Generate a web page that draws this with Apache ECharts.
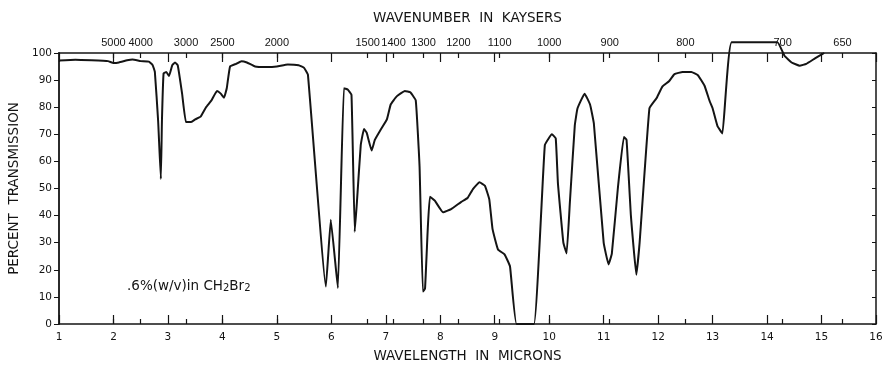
<!DOCTYPE html>
<html>
<head>
<meta charset="utf-8">
<script src="https://cdn.jsdelivr.net/npm/echarts@6/dist/echarts.min.js"></script>
<style>
  html, body { margin: 0; padding: 0; background: #fff; }
  #chart { width: 884px; height: 366px; }
</style>
</head>
<body>
<div id="chart"></div>
<script>
// wavelength (microns) and percent transmission
const wavelength = [
  1.0, 1.3, 1.6, 1.9, 2.0, 2.1, 2.25, 2.35, 2.5, 2.65, 2.72, 2.76, 2.82, 2.87, 2.89, 2.92,
  2.97, 3.02, 3.08, 3.13, 3.18, 3.26, 3.33, 3.42, 3.5, 3.6, 3.7, 3.8, 3.9, 3.97, 4.03, 4.08,
  4.14, 4.25, 4.35, 4.45, 4.6, 4.8, 5.0, 5.2, 5.4, 5.5, 5.57, 5.9, 5.99, 6.12, 6.23, 6.3,
  6.37, 6.43, 6.47, 6.54, 6.6, 6.65, 6.74, 6.8, 6.9, 7.02, 7.09, 7.2, 7.35, 7.45, 7.55, 7.62,
  7.68, 7.72, 7.77, 7.81, 7.9, 8.05, 8.2, 8.38, 8.5, 8.6, 8.72, 8.82, 8.9, 8.96, 9.06, 9.18,
  9.28, 9.4, 9.72, 9.92, 10.05, 10.12, 10.16, 10.26, 10.32, 10.38, 10.47, 10.52, 10.65, 10.75,
  10.82, 11.0, 11.09, 11.15, 11.26, 11.37, 11.42, 11.5, 11.6, 11.66, 11.84, 11.97, 12.08, 12.2,
  12.3, 12.45, 12.61, 12.73, 12.85, 12.95, 13.0, 13.09, 13.18, 13.35, 14.19, 14.32, 14.45, 14.6,
  14.72, 14.88, 15.05
];
const transmission = [
  97.2, 97.5, 97.3, 97, 96.3, 96.5, 97.3, 97.6, 97, 96.8, 95.5, 93, 75, 53.5, 75, 92.5,
  93, 91.5, 95.5, 96.5, 95.5, 85, 74.5, 74.5, 75.5, 76.5, 80, 82.5, 86, 85, 83.5, 87,
  95, 96, 97, 96.5, 95, 94.8, 95, 95.8, 95.5, 94.5, 92, 13.8, 38.5, 13.3, 87, 86.5,
  84.5, 34, 45, 66, 72, 70.5, 64, 68, 71.5, 75.5, 81, 84, 86, 85.5, 82.5, 58,
  12, 13, 35, 47, 45.5, 41.2, 42.4, 45, 46.5, 49.8, 52.3, 51, 46, 35, 27.5, 25.7,
  21.3, 0, 0, 66, 70, 68.5, 52, 30, 26, 45, 73.3, 79.6, 85, 81,
  74, 30, 22, 26, 50, 69, 68, 40, 18.2, 30, 79.6, 83.3, 87.7, 89.6,
  92.2, 93, 93, 91.8, 88, 82, 79.6, 73, 70.3, 104, 104, 99, 96.5, 95.3,
  96, 98, 100
];
// top scale: wavenumber in kaysers (cm-1)
const wavenumberTicks = [5000, 4000, 3000, 2500, 2000, 1500, 1400, 1300, 1200, 1100, 1000, 900, 800, 700, 650];
const micronTicks = [1, 2, 3, 4, 5, 6, 7, 8, 9, 10, 11, 12, 13, 14, 15, 16];
const percentTicks = [0, 10, 20, 30, 40, 50, 60, 70, 80, 90, 100];

const ink = '#141414';
const font = 'DejaVu Sans';
const narrow = 'Liberation Sans';
const wnPos = wavenumberTicks.map(w => 10000 / w);

const chart = echarts.init(document.getElementById('chart'));

const option = {
  animation: false,
  backgroundColor: '#fff',
  grid: { left: 59, right: 8, top: 53, bottom: 42, outerBoundsMode: 'none', containLabel: false },
  xAxis: [
    {
      type: 'value', position: 'bottom', min: 1, max: 16, interval: 1,
      name: 'WAVELENGTH  IN  MICRONS', nameLocation: 'middle', nameGap: 25,
      nameTextStyle: { color: ink, fontFamily: font, fontSize: 13.5 },
      axisLine: { lineStyle: { color: ink, width: 1.5 } },
      axisTick: { inside: true, length: 9, lineStyle: { color: ink, width: 1.2 } },
      axisLabel: { color: ink, fontFamily: font, fontSize: 10.5, margin: 8 },
      splitLine: { show: false }
    },
    {
      type: 'value', position: 'bottom', min: 1, max: 16,
      axisLine: { show: false },
      axisTick: { inside: true, length: 5, customValues: wnPos, lineStyle: { color: ink, width: 1.2 } },
      axisLabel: { show: false },
      splitLine: { show: false }
    },
    {
      type: 'value', position: 'top', min: 1, max: 16,
      name: 'WAVENUMBER  IN  KAYSERS', nameLocation: 'middle', nameGap: 28,
      nameTextStyle: { color: ink, fontFamily: font, fontSize: 13.5 },
      axisLine: { lineStyle: { color: ink, width: 1.5 } },
      axisTick: { inside: true, length: 5, customValues: wnPos, lineStyle: { color: ink, width: 1.2 } },
      axisLabel: {
        color: ink, fontFamily: narrow, fontSize: 11, margin: 5,
        customValues: wnPos,
        formatter: v => String(Math.round(10000 / v))
      },
      splitLine: { show: false }
    },
    {
      type: 'value', position: 'top', min: 1, max: 16,
      axisLine: { show: false },
      axisTick: { inside: true, length: 9, customValues: micronTicks, lineStyle: { color: ink, width: 1.2 } },
      axisLabel: { show: false },
      splitLine: { show: false }
    }
  ],
  yAxis: [
    {
      type: 'value', position: 'left', min: 0, max: 100, interval: 10,
      name: 'PERCENT  TRANSMISSION', nameLocation: 'middle', nameGap: 36,
      nameTextStyle: { color: ink, fontFamily: font, fontSize: 13.5 },
      axisLine: { lineStyle: { color: ink, width: 1.8 } },
      axisTick: { length: 5, customValues: percentTicks, lineStyle: { color: ink, width: 1 } },
      axisLabel: { color: ink, fontFamily: font, fontSize: 10.5, margin: 7 },
      splitLine: { show: false }
    },
    {
      type: 'value', position: 'right', min: 0, max: 100, interval: 10,
      axisLine: { show: true, lineStyle: { color: ink, width: 1.5 } },
      axisTick: { show: true, inside: true, length: 4, lineStyle: { color: ink, width: 1 } },
      axisLabel: { show: false },
      splitLine: { show: false }
    }
  ],
  series: [
    {
      type: 'line',
      xAxisIndex: 0,
      yAxisIndex: 0,
      clip: false,
      showSymbol: false,
      smooth: 0.1,
      lineStyle: { color: ink, width: 2 },
      data: wavelength.map((w, i) => [w, transmission[i]])
    }
  ],
  graphic: [
    {
      type: 'text',
      left: 127,
      top: 279,
      style: {
        text: '{a|.6%(w/v)in CH}{s|2}{a|Br}{s|2}',
        rich: {
          a: { fontFamily: font, fontSize: 13.5, fill: ink, verticalAlign: 'bottom' },
          s: { fontFamily: font, fontSize: 10, fill: ink, padding: [6, 0, 0, 0], verticalAlign: 'bottom' }
        }
      }
    }
  ]
};

chart.setOption(option);
</script>
</body>
</html>
